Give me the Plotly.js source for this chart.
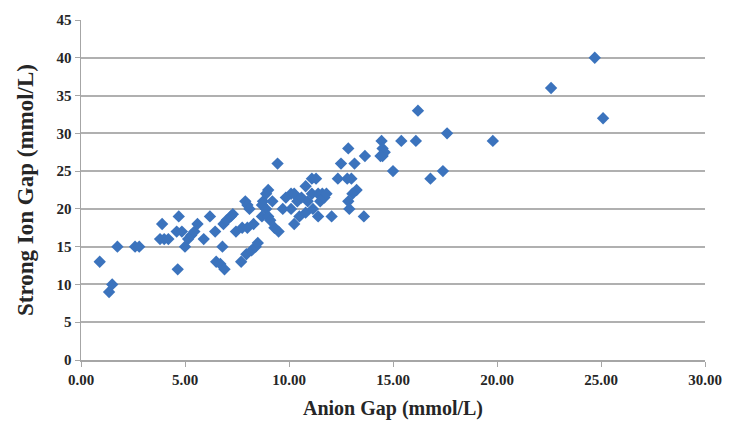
<!DOCTYPE html>
<html>
<head>
<meta charset="utf-8">
<script src="https://cdn.plot.ly/plotly-3.0.1.min.js"></script>
<style>
  html, body { margin: 0; padding: 0; background: #ffffff; }
  #chart { width: 730px; height: 427px; }
</style>
</head>
<body>
<div id="chart"></div>
<script>
// Anion Gap (mmol/L)
const anionGap = [
  0.9, 1.35, 1.5, 1.75, 2.6, 2.8,
  3.9, 3.8, 4.0, 4.2, 4.7, 4.65, 4.6, 4.85, 5.0, 5.15, 5.3, 5.45, 5.6, 5.9,
  6.2, 6.45, 6.8, 6.5, 6.7, 6.9, 6.85, 7.0, 7.2, 7.3, 7.45, 7.7, 7.75, 7.9,
  8.0, 8.0, 8.1, 7.95, 8.2, 8.4, 8.5, 8.3, 8.7, 8.75, 8.7, 8.9, 9.0, 8.9,
  9.0, 9.1, 9.3, 9.2, 9.45, 9.5, 9.7, 9.85, 10.1, 10.25, 10.1, 10.25, 10.4,
  10.5, 10.6, 10.8, 10.8, 10.9, 11.1, 11.15, 11.1, 11.3, 11.4, 11.4, 11.5,
  11.6, 11.7, 11.8, 12.05, 12.35, 12.5, 12.85, 12.8, 12.85, 12.9, 13.0,
  13.15, 13.25, 13.05, 13.6, 13.65, 14.45, 14.5, 14.5, 14.6, 14.4, 15.0,
  15.4, 16.1, 16.2, 16.8, 17.4, 17.6, 19.8, 22.6, 24.7, 25.1
];
// Strong Ion Gap (mmol/L)
const strongIonGap = [
  13, 9, 10, 15, 15, 15,
  18, 16, 16, 16, 19, 12, 17, 17, 15, 16, 16.5, 17, 18, 16,
  19, 17, 15, 13, 12.7, 12, 18, 18.5, 19, 19.3, 17, 13, 17.5, 21,
  20.5, 17.5, 20, 14, 14.5, 15, 15.5, 18, 19, 21, 20.5, 20, 22.5, 22,
  19, 18.5, 17.5, 21, 26, 17, 20, 21.5, 22, 22, 20, 18, 21,
  19, 21.5, 19.5, 23, 21, 22, 20, 24, 24, 22, 19, 21,
  22, 21.5, 22, 19, 24, 26, 28, 24, 21, 20, 24,
  26, 22.5, 22, 19, 27, 29, 28, 27, 27.5, 27, 25,
  29, 29, 33, 24, 25, 30, 29, 36, 40, 32
];
const xTitle = 'Anion Gap (mmol/L)';
const yTitle = 'Strong Ion Gap (mmol/L)';

const serif = 'Liberation Serif, DejaVu Serif, serif';

const trace = {
  type: 'scatter',
  mode: 'markers',
  x: anionGap,
  y: strongIonGap,
  marker: { symbol: 'diamond', size: 9.5, color: '#3b73bd', line: { width: 0 } },
  hoverinfo: 'x+y'
};

const layout = {
  width: 730,
  height: 427,
  margin: { l: 81, r: 25, t: 20, b: 67 },
  paper_bgcolor: '#ffffff',
  plot_bgcolor: '#ffffff',
  showlegend: false,
  font: { family: serif, color: '#262626' },
  xaxis: {
    range: [0, 30],
    tick0: 0,
    dtick: 5,
    tickformat: '.2f',
    showgrid: false,
    zeroline: false,
    showline: true,
    linecolor: '#a6a6a6',
    linewidth: 1.5,
    ticks: 'outside',
    ticklen: 5,
    tickcolor: '#a6a6a6',
    tickfont: { family: serif, size: 15, color: '#262626', weight: 'bold' },
    title: { text: xTitle, font: { family: serif, size: 20, color: '#262626', weight: 'bold' }, standoff: 14 },
    fixedrange: true
  },
  yaxis: {
    range: [0, 45],
    tick0: 0,
    dtick: 5,
    showgrid: true,
    gridcolor: '#b0b0b0',
    gridwidth: 2,
    zeroline: false,
    showline: true,
    linecolor: '#a6a6a6',
    linewidth: 1.5,
    ticks: 'outside',
    ticklen: 5,
    tickcolor: '#a6a6a6',
    tickfont: { family: serif, size: 15, color: '#262626', weight: 'bold' },
    title: { text: yTitle, font: { family: serif, size: 23, color: '#262626', weight: 'bold' }, standoff: 16 },
    fixedrange: true
  }
};

Plotly.newPlot('chart', [trace], layout, { displayModeBar: false, staticPlot: true });
</script>
</body>
</html>
